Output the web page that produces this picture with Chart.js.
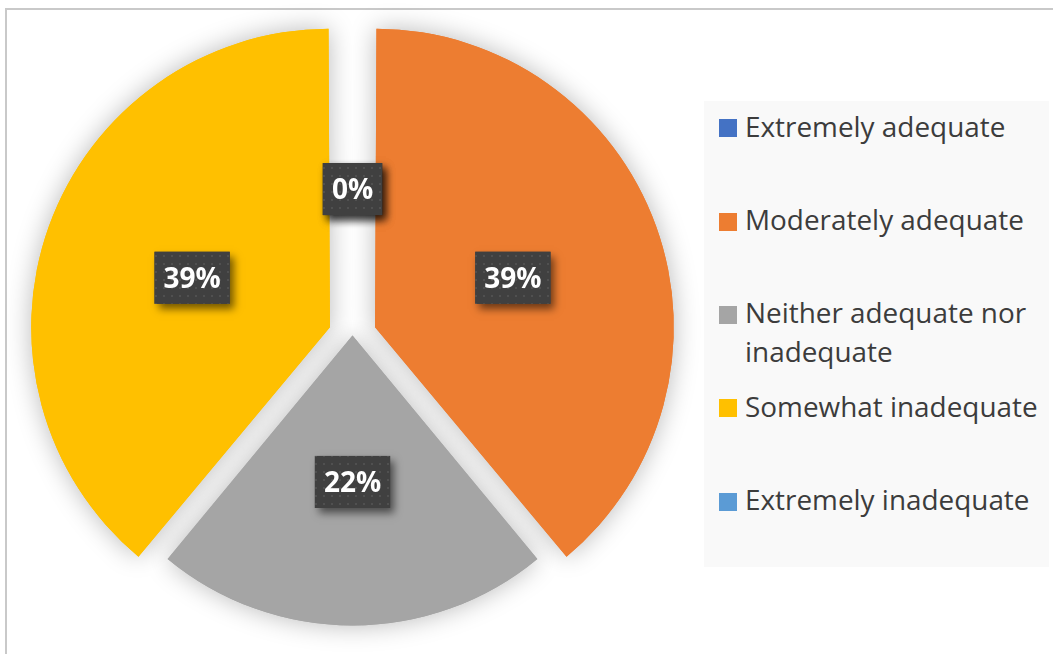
<!DOCTYPE html>
<html>
<head>
<meta charset="utf-8">
<script src="https://cdn.jsdelivr.net/npm/chart.js@4.4.1/dist/chart.umd.min.js"></script>
<style>
  html, body { margin: 0; padding: 0; }
  body { width: 1053px; height: 654px; overflow: hidden; position: relative; background: #fff; font-family: 'Open Sans', sans-serif; }
  #frame { position: absolute; left: 5px; top: 8px; width: 1100px; height: 700px; border: 2px solid #c9c9c9; box-sizing: border-box; }
  #wrap { position: absolute; left: 0; top: -20px; width: 1053px; height: 700px; }
  #legend { position: absolute; left: 704px; top: 101px; width: 345px; height: 466px; background: #f9f9f9; }
  .item { position: absolute; left: 0; width: 345px; }
  .swatch { position: absolute; left: 15px; width: 18px; height: 18px; }
  .text { position: absolute; left: 41px; width: 302px; font-size: 27.9px; line-height: 38.5px; color: #3c3c3c; }
</style>
</head>
<body>
<div id="frame"></div>
<div id="wrap"><canvas id="pieChart" width="1053" height="700"></canvas></div>
<div id="legend"></div>
<script>
const categories = ['Extremely adequate', 'Moderately adequate', 'Neither adequate nor inadequate', 'Somewhat inadequate', 'Extremely inadequate'];
const shares = [0, 39, 22, 39, 0];
const sliceColors = ['#4472c4', '#ed7d31', '#a5a5a5', '#ffc000', '#5b9bd5'];

// legend on the right, one row per category
function buildLegend() {
  const box = document.getElementById('legend');
  categories.forEach((name, i) => {
    const baseline = 36.3 + i * 93.3;
    const item = document.createElement('div');
    item.className = 'item';
    item.style.top = `${baseline - 30.5}px`;
    item.innerHTML = `<div class="swatch" style="top:12.5px;background:${sliceColors[i]}"></div><div class="text">${name}</div>`;
    box.appendChild(item);
  });
}

// soft grey shadow under the slices
const pieShadow = {
  id: 'pieShadow',
  beforeDatasetsDraw(chart) {
    const ctx = chart.ctx;
    ctx.save();
    ctx.shadowColor = 'rgba(0,0,0,0.28)';
    ctx.shadowBlur = 26;
    chart.getDatasetMeta(0).data.forEach((arc) => arc.draw(ctx));
    ctx.restore();
  }
};

function dotPattern(ctx) {
  const c = document.createElement('canvas');
  c.width = 8;
  c.height = 8;
  const p = c.getContext('2d');
  p.fillStyle = '#404040';
  p.fillRect(0, 0, 8, 8);
  p.fillStyle = '#505050';
  p.fillRect(3, 3, 2, 2);
  return ctx.createPattern(c, 'repeat');
}

// percentage boxes at the middle of each slice
const sliceLabels = {
  id: 'sliceLabels',
  afterDatasetsDraw(chart) {
    const ctx = chart.ctx;
    const fill = dotPattern(ctx);
    const meta = chart.getDatasetMeta(0);
    meta.data.forEach((arc, i) => {
      const { x, y, startAngle, endAngle, outerRadius } = arc.getProps(['x', 'y', 'startAngle', 'endAngle', 'outerRadius']);
      const shift = (arc.options.offset || 0) / 4;
      const mid = (startAngle + endAngle) / 2;
      const dist = shift + outerRadius * 0.505;
      const lx = x + Math.cos(mid) * dist;
      const ly = y + Math.sin(mid) * dist;
      const text = `${shares[i]}%`;
      ctx.save();
      ctx.font = "bold 28px 'Open Sans'";
      const w = ctx.measureText(text).width + 18;
      const h = 52;
      ctx.shadowColor = 'rgba(0,0,0,0.55)';
      ctx.shadowBlur = 8;
      ctx.shadowOffsetX = 4;
      ctx.shadowOffsetY = 5;
      ctx.fillStyle = '#404040';
      ctx.fillRect(lx - w / 2, ly - h / 2, w, h);
      ctx.shadowColor = 'transparent';
      ctx.fillStyle = fill;
      ctx.fillRect(lx - w / 2, ly - h / 2, w, h);
      ctx.fillStyle = '#ffffff';
      ctx.textAlign = 'center';
      ctx.textBaseline = 'alphabetic';
      ctx.fillText(text, lx, ly + 10);
      ctx.restore();
    });
  }
};

buildLegend();

new Chart(document.getElementById('pieChart'), {
  type: 'pie',
  data: {
    labels: categories,
    datasets: [{
      data: shares,
      backgroundColor: sliceColors,
      borderWidth: 0,
      offset: [0, 96, 0, 96, 0]
    }]
  },
  options: {
    responsive: false,
    animation: false,
    events: [],
    layout: { padding: { left: 14.5, right: 362.5, top: 17.5, bottom: 6.5 } },
    plugins: {
      legend: { display: false },
      tooltip: { enabled: false }
    }
  },
  plugins: [pieShadow, sliceLabels]
});
</script>
</body>
</html>
